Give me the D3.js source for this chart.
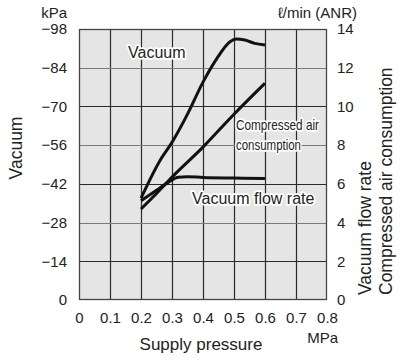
<!DOCTYPE html>
<html><head><meta charset="utf-8">
<script src="https://cdn.jsdelivr.net/npm/d3@7"></script>
<style>
body{margin:0;background:#fff;}
svg text{font-family:"Liberation Sans",Arial,Helvetica,sans-serif;fill:#222;}
</style></head>
<body><svg id="c" width="401" height="361"></svg>
<script>
// ---- data ----
const xTicks = [0, 0.1, 0.2, 0.3, 0.4, 0.5, 0.6, 0.7, 0.8];
const leftTicks = [0, -14, -28, -42, -56, -70, -84, -98];
const rightTicks = [0, 2, 4, 6, 8, 10, 12, 14];

const vacuumP   = [0.2, 0.26, 0.3, 0.35, 0.4, 0.445, 0.487, 0.508, 0.535, 0.567, 0.6];
const vacuumKPa = [-36.8, -50.2, -57.0, -67.2, -78.8, -87.4, -93.4, -94.4, -94.0, -92.8, -92.2];

const flowP = [0.2, 0.25, 0.29, 0.32, 0.35, 0.4, 0.5, 0.6];
const flowL = [5.13, 5.67, 6.1, 6.34, 6.37, 6.33, 6.3, 6.28];

const airP = [0.2, 0.25, 0.3, 0.4, 0.5, 0.6];
const airL = [4.7, 5.5, 6.35, 7.9, 9.6, 11.2];

// ---- chart ----
const svg = d3.select("#c");
const L = 79, R = 327, T = 29, B = 300;
const x = d3.scaleLinear().domain([0, 0.8]).range([L, R]);
const yL = d3.scaleLinear().domain([0, -98]).range([B, T]);
const yR = d3.scaleLinear().domain([0, 14]).range([B, T]);

svg.append("rect").attr("x", L).attr("y", T).attr("width", R - L).attr("height", B - T)
  .attr("fill", "#e5e5e5");

// vertical grid
svg.append("g").selectAll("line").data(xTicks.slice(1, -1)).join("line")
  .attr("x1", d => Math.round(x(d)) + 0.5).attr("x2", d => Math.round(x(d)) + 0.5)
  .attr("y1", T).attr("y2", B).attr("stroke", "#2a2a2a").attr("stroke-width", 1.2);
// horizontal grid (alternating shade)
svg.append("g").selectAll("line").data(leftTicks.slice(1, -1)).join("line")
  .attr("x1", L).attr("x2", R)
  .attr("y1", d => Math.round(yL(d)) + 0.5).attr("y2", d => Math.round(yL(d)) + 0.5)
  .attr("stroke", (d, i) => i % 2 === 0 ? "#2a2a2a" : "#7a7a7a").attr("stroke-width", 1.2);
svg.append("rect").attr("x", L + 0.5).attr("y", T + 0.5).attr("width", R - L - 1).attr("height", B - T - 1)
  .attr("fill", "none").attr("stroke", "#444").attr("stroke-width", 1.3);

// axes
const fmtL = d => d === 0 ? "0" : "\u2212" + Math.abs(d);
const axL = svg.append("g").attr("transform", `translate(${L - 12},0)`)
  .call(d3.axisLeft(yL).tickValues(leftTicks).tickFormat(fmtL).tickSize(0).tickPadding(0));
const axR = svg.append("g").attr("transform", `translate(${R + 10},0)`)
  .call(d3.axisRight(yR).tickValues(rightTicks).tickSize(0).tickPadding(0));
const axB = svg.append("g").attr("transform", `translate(0,${B + 12})`)
  .call(d3.axisBottom(x).tickValues(xTicks).tickFormat(d => d === 0 ? "0" : d3.format(".1f")(d)).tickSize(0).tickPadding(0));
[axL, axR, axB].forEach(a => {
  a.select(".domain").remove();
  a.selectAll("text").attr("font-size", 15).attr("fill", "#222")
    .style("font-family", '"Liberation Sans",Arial,sans-serif');
});
axB.selectAll("text").attr("dy", "0.75em");

// unit labels
svg.append("text").attr("x", 67).attr("y", 18).attr("text-anchor", "end").attr("font-size", 15).text("kPa");
svg.append("text").attr("x", 357).attr("y", 18).attr("text-anchor", "end").attr("font-size", 15).text("\u2113/min (ANR)");
svg.append("text").attr("x", 338).attr("y", 343).attr("text-anchor", "end").attr("font-size", 15).text("MPa");

// axis titles
svg.append("text").attr("x", 201).attr("y", 350).attr("text-anchor", "middle").attr("font-size", 17).text("Supply pressure");
svg.append("text").attr("transform", "translate(22,148) rotate(-90)").attr("text-anchor", "middle")
  .attr("font-size", 17.5).text("Vacuum");
svg.append("text").attr("transform", "translate(371,295) rotate(-90)").attr("text-anchor", "start")
  .attr("font-size", 17.5).text("Vacuum flow rate");
svg.append("text").attr("transform", "translate(391.5,295) rotate(-90)").attr("text-anchor", "start")
  .attr("font-size", 17.5).text("Compressed air consumption");

// curves
const lineGen = (ys) => d3.line().x(d => x(d[0])).y(d => ys(d[1])).curve(d3.curveMonotoneX);
const plotLine = (px, py, ys) => svg.append("path").datum(d3.zip(px, py))
  .attr("d", lineGen(ys)).attr("fill", "none").attr("stroke", "#111")
  .attr("stroke-width", 3).attr("stroke-linejoin", "round");
plotLine(airP, airL, yR);
plotLine(flowP, flowL, yR);
plotLine(vacuumP, vacuumKPa, yL);

// in-plot labels with white halo
function label(tx, ty, s, size, len) {
  const t = svg.append("text").attr("x", tx).attr("y", ty).attr("font-size", size)
    .attr("stroke", "#fff").attr("stroke-width", 3.5).attr("stroke-linejoin", "round")
    .attr("paint-order", "stroke").text(s);
  if (len) t.attr("textLength", len).attr("lengthAdjust", "spacingAndGlyphs");
}
label(128, 58, "Vacuum", 16);
label(236, 130, "Compressed air", 14.5, 83);
label(236, 150, "consumption", 14.5, 65);
label(192, 204, "Vacuum flow rate", 16);
</script></body></html>
